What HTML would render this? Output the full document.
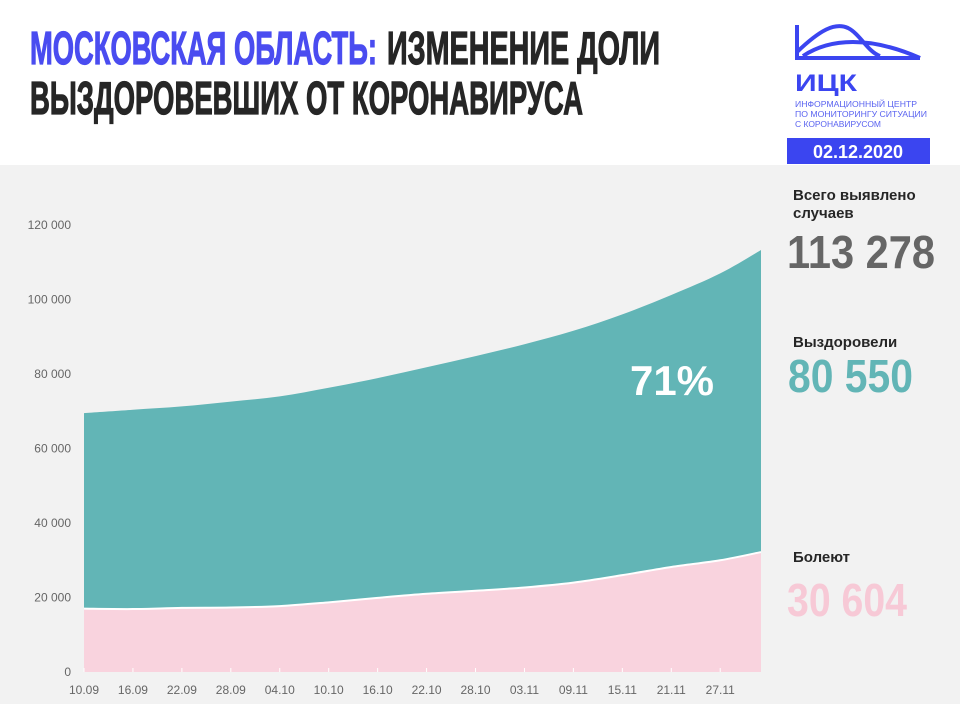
<!DOCTYPE html>
<html><head><meta charset="utf-8"><style>
html,body{margin:0;padding:0;width:960px;height:720px;overflow:hidden;background:#fff;font-family:"Liberation Sans",sans-serif}
svg{display:block}
</style></head><body>
<svg width="960" height="720" viewBox="0 0 960 720">
<rect x="0" y="165" width="960" height="539" fill="#f2f2f2"/>
<g font-family="Liberation Sans, sans-serif" font-weight="bold" font-size="46" stroke-width="1.2">
<text x="30" y="64" textLength="347" lengthAdjust="spacingAndGlyphs" fill="#4a4cf0" stroke="#4a4cf0">МОСКОВСКАЯ ОБЛАСТЬ:</text>
<text x="387" y="64" textLength="273" lengthAdjust="spacingAndGlyphs" fill="#262626" stroke="#262626">ИЗМЕНЕНИЕ ДОЛИ</text>
<text x="30" y="114" textLength="553" lengthAdjust="spacingAndGlyphs" fill="#262626" stroke="#262626">ВЫЗДОРОВЕВШИХ ОТ КОРОНАВИРУСА</text>
</g>
<g>
<path d="M797 25 L797 58 L920 58 M797 52 C820 30 835 22 848 28 C860 34 868 52 880 56 M803 56 C830 38 870 36 920 58" fill="none" stroke="#3b45f0" stroke-width="4"/>
<text x="795" y="91" font-size="24" font-weight="bold" fill="#3b45f0" textLength="62" lengthAdjust="spacingAndGlyphs">ИЦК</text>
<text x="795" y="107" font-size="8.5" fill="#5a63f0" textLength="122" lengthAdjust="spacingAndGlyphs">ИНФОРМАЦИОННЫЙ ЦЕНТР</text>
<text x="795" y="117" font-size="8.5" fill="#5a63f0" textLength="132" lengthAdjust="spacingAndGlyphs">ПО МОНИТОРИНГУ СИТУАЦИИ</text>
<text x="795" y="127" font-size="8.5" fill="#5a63f0" textLength="86" lengthAdjust="spacingAndGlyphs">С КОРОНАВИРУСОМ</text>
<rect x="787" y="138" width="143" height="26" fill="#3b45f0"/>
<text x="858" y="158" font-size="18" font-weight="bold" fill="#fff" text-anchor="middle">02.12.2020</text>
</g>
<g id="chart"></g>
<text x="672" y="395" font-size="42" font-weight="bold" fill="#fff" text-anchor="middle">71%</text>
<g font-family="Liberation Sans, sans-serif" font-weight="bold">
<text x="793" y="200" font-size="15" fill="#262626">Всего выявлено</text>
<text x="793" y="218" font-size="15" fill="#262626">случаев</text>
<text x="787" y="268" font-size="46" fill="#666" textLength="148" lengthAdjust="spacingAndGlyphs">113 278</text>
<text x="793" y="347" font-size="15" fill="#262626">Выздоровели</text>
<text x="788" y="392" font-size="46" fill="#62b5b6" textLength="125" lengthAdjust="spacingAndGlyphs">80 550</text>
<text x="793" y="562" font-size="15" fill="#262626">Болеют</text>
<text x="787" y="616" font-size="46" fill="#f7c9d6" textLength="120" lengthAdjust="spacingAndGlyphs">30 604</text>
</g>
</svg>
<script>
const dayIndex=[0,6,12,18,24,30,36,42,48,54,60,66,72,78,83];
const totalCases=[69500,70400,71300,72600,74000,76300,78900,81800,84800,88000,91600,96000,101200,107000,113278];
const activeCases=[17000,16900,17200,17300,17700,18700,19900,21000,21800,22700,24000,26000,28200,30000,32200];
const tickLabels=["10.09","16.09","22.09","28.09","04.10","10.10","16.10","22.10","28.10","03.11","09.11","15.11","21.11","27.11"];
const yTicks=[0,20000,40000,60000,80000,100000,120000];
(function(){
const NS="http://www.w3.org/2000/svg";
const g=document.getElementById('chart');
const x0=84,x1=761,y0=672,y1=225;
const xs=d=>x0+d*(x1-x0)/83;
const ys=v=>y0-v*(y0-y1)/120000;
function mk(t,a){const e=document.createElementNS(NS,t);for(const k in a)e.setAttribute(k,a[k]);g.appendChild(e);return e;}
function smooth(vals){
  const P=vals.map((v,i)=>[xs(dayIndex[i]),ys(v)]);
  let s="M"+P[0][0]+" "+P[0][1];
  for(let i=0;i<P.length-1;i++){
    const p0=P[Math.max(0,i-1)],p1=P[i],p2=P[i+1],p3=P[Math.min(P.length-1,i+2)];
    const c1x=p1[0]+(p2[0]-p0[0])/6,c1y=p1[1]+(p2[1]-p0[1])/6;
    const c2x=p2[0]-(p3[0]-p1[0])/6,c2y=p2[1]-(p3[1]-p1[1])/6;
    s+=" C"+c1x+" "+c1y+" "+c2x+" "+c2y+" "+p2[0]+" "+p2[1];
  }
  return s;
}
const topPath=smooth(totalCases), midPath=smooth(activeCases);
const teal=mk('path',{d:topPath+" L"+xs(83)+" "+y0+" L"+x0+" "+y0+" Z",fill:"#62b5b6"});


const pink=mk('path',{d:midPath+" L"+xs(83)+" "+y0+" L"+x0+" "+y0+" Z",fill:"#f9d3de"});


const line=mk('path',{d:midPath,fill:"none",stroke:"#fff","stroke-width":2});


yTicks.forEach(v=>{
  const t=mk('text',{x:71,y:ys(v)+4,"font-size":12,fill:"#666","text-anchor":"end","font-family":"Liberation Sans, sans-serif"});
  t.textContent=v===0?"0":(v/1000)+" 000";
  
  
});
tickLabels.forEach((l,i)=>{
  const X=xs(i*6);
  const tk=mk('line',{x1:X,x2:X,y1:y0,y2:y0-4,stroke:"#fff","stroke-width":1});
  
  
  const t=mk('text',{x:X,y:694,"font-size":12,fill:"#666","text-anchor":"middle","font-family":"Liberation Sans, sans-serif"});
  t.textContent=l;
  
  
});
})();
</script>
</body></html>
